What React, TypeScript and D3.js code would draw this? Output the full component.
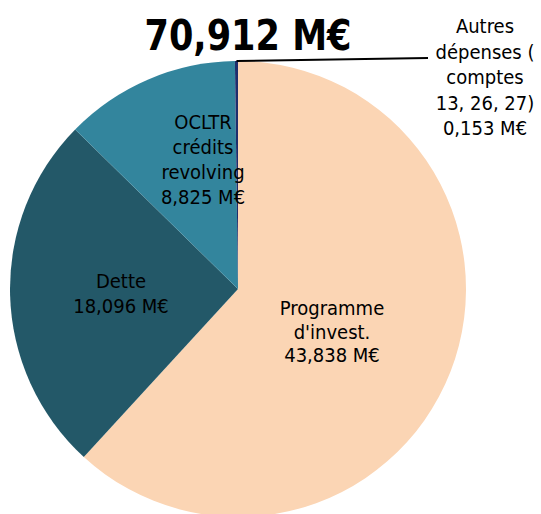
import React from "react";
import * as d3 from "d3";

const categories = ["Programme d'invest.", "Dette", "OCLTR crédits revolving", "Autres dépenses ( comptes 13, 26, 27)"];
const values = [43.838, 18.096, 8.825, 0.153];
const labelLines = [
  ["Programme", "d'invest.", "43,838 M€"],
  ["Dette", "18,096 M€"],
  ["OCLTR", "crédits", "revolving", "8,825 M€"],
  ["Autres", "dépenses (", "comptes", "13, 26, 27)", "0,153 M€"],
];
const colors = ["#FBD5B4", "#235868", "#33859D", "#1E2E6C"];
const totalLabel = "70,912 M€";

const W = 541, H = 514;
const cx = 238, cy = 289, R = 228;

export default function App() {
  const pie = d3.pie<number>().sort(null).value((d) => d);
  const arcs = pie(values);
  const arc = d3.arc<d3.PieArcDatum<number>>().innerRadius(0).outerRadius(R);
  const font = "'DejaVu Sans Condensed', 'DejaVu Sans', Verdana, sans-serif";
  const labelPos = [
    { x: 332, y: 315, dy: 23.5 },
    { x: 121, y: 288, dy: 25 },
    { x: 203, y: 129, dy: 25 },
    { x: 485, y: 33, dy: 25.5 },
  ];
  const autres = arcs[3];
  const midA = (autres.startAngle + autres.endAngle) / 2;
  const ax = cx + Math.sin(midA) * R;
  const ay = cy - Math.cos(midA) * R;
  return (
    <svg width={W} height={H} style={{ position: "absolute", left: 0, top: 0, background: "#fff" }}>
      <g transform={`translate(${cx},${cy})`}>
        {arcs.map((a, i) => (
          <path key={i} d={arc(a) || ""} fill={colors[i]} />
        ))}
      </g>
      <line x1={ax} y1={ay} x2={428} y2={58} stroke="#000" strokeWidth={2} />
      <text x={248} y={50} textAnchor="middle" fontFamily={font} fontWeight="bold" fontSize={42}
        textLength={207} lengthAdjust="spacingAndGlyphs" fill="#000">{totalLabel}</text>
      {labelLines.map((lines, i) => (
        <text key={i} fontFamily={font} fontSize={20} fill="#000" textAnchor="middle">
          {lines.map((l, j) => (
            <tspan key={j} x={labelPos[i].x} y={labelPos[i].y + j * labelPos[i].dy}>{l}</tspan>
          ))}
        </text>
      ))}
    </svg>
  );
}
